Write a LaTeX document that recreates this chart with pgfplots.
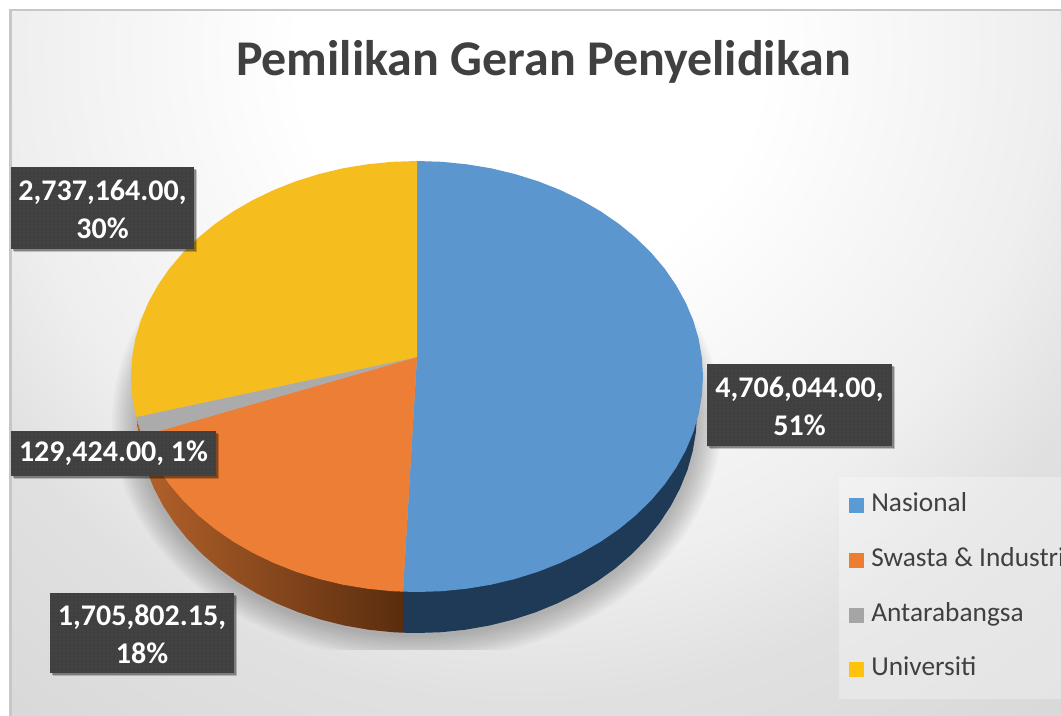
\documentclass[border=0pt]{standalone}
\usepackage{fontspec}
\setmainfont{Carlito}
\usepackage{pgfplots}
\pgfplotsset{compat=1.18}
\usetikzlibrary{patterns,shadows}

\definecolor{txt}{HTML}{404040}
\definecolor{pblue}{HTML}{5B96CE}
\definecolor{porange}{HTML}{EC7E35}
\definecolor{pgrey}{HTML}{ABABAB}
\definecolor{pyellow}{HTML}{F6BD1E}
\definecolor{lblue}{HTML}{5B9BD5}
\definecolor{lorange}{HTML}{ED7D31}
\definecolor{lgrey}{HTML}{A5A5A5}
\definecolor{lyellow}{HTML}{FFC20E}
\definecolor{wblue}{HTML}{1F3A57}
\definecolor{wol}{HTML}{B4622B}
\definecolor{wor}{HTML}{5A2D0E}
\definecolor{boxc}{HTML}{404040}
\definecolor{dotc}{HTML}{505050}
\definecolor{bgc}{HTML}{D9D9D9}

\newcommand{\lift}{\rule{0pt}{17pt}}

\tikzset{
  datalabel/.style 2 args={
    fill=boxc, text=white, font=\fontsize{22.5}{28.5}\selectfont\bfseries,
    align=center, inner sep=0pt, minimum width=#1*0.75pt, minimum height=#2*0.75pt,
    drop shadow={shadow xshift=2.4pt,shadow yshift=-2.4pt,opacity=.2,fill=black},
    drop shadow={shadow xshift=1.2pt,shadow yshift=-1.2pt,opacity=.3,fill=black},
    postaction={pattern=dots,pattern color=dotc}},
}

\begin{document}
\begin{tikzpicture}
\clip (0,0) rectangle (795.75pt,536.25pt);
% chart area: page is 0.75pt per reference pixel
\begin{scope}
  \clip (8.25pt,-1pt) rectangle (800pt,528.75pt);
  \fill[bgc] (0,-2pt) rectangle (800pt,540pt);
  \foreach \f in {38,37,...,0}{
    \pgfmathsetmacro{\rad}{\f<=16 ? 240+17.5*\f : (\f<=30 ? 520+9.3*(\f-16) : 650+25*(\f-30))}
    \pgfmathsetmacro{\lev}{(255-\f)/255}
    \definecolor{bgtmp}{gray}{\lev}
    \fill[bgtmp] (397.5pt,498pt) circle ({\rad*0.75pt});
  }
\end{scope}
\draw[color=black!22,line width=1.7pt] (7.9pt,-2pt) -- (7.9pt,528.9pt) -- (800pt,528.9pt);
% soft shadow under the pie
\begin{scope}
  \clip (0,49.5pt) rectangle (795.75pt,536.25pt);
  \foreach \k in {0,1,...,12}{
    \fill[black,opacity=0.02] (312.75pt,221.25pt) ellipse ({(305-2*\k)*0.75pt} and {(241-2*\k)*0.75pt});
  }
\end{scope}

\begin{axis}[
    at={(0,0)}, anchor=south west,
    scale only axis, width=795.75pt, height=536.25pt,
    xmin=0, xmax=1061, ymin=0, ymax=715, y dir=reverse,
    axis lines=none, clip=false,
    legend cell align=left,
    legend style={
      at={(axis cs:839,477)}, anchor=north west,
      fill=white, fill opacity=0.3, text opacity=1, draw=none,
      font=\fontsize{20.5}{24}\selectfont, text=txt,
      inner xsep=7.5pt, inner ysep=12pt,
      row sep=22pt,
      nodes={text depth=5pt, text height=14pt, inner sep=0pt},
    },
    legend image code/.code={
      \path[draw=none] (0pt,0pt) -- (16.5pt,0pt);
      \fill[#1,fill opacity=1,draw=none] (0pt,-5.6pt) rectangle (11.25pt,5.6pt);},
]
% side wall, blue part
\addplot[forget plot, fill=wblue, draw=none] coordinates {
(403,591.6)(403,632.7)(417,633)(441.4,632.2)(465.6,629.7)(489.5,625.5)(512.8,619.7)
(535.3,612.4)(557,603.5)(577.6,593.2)(597,581.5)(615,568.6)(631.5,554.4)(646.4,539.2)
(659.5,523)(670.8,506)(680.1,488.2)(687.5,469.9)(692.7,451.2)(695.9,432.2)(697,413)} -- cycle;
% side wall, orange part
\addplot[forget plot, left color=wol, right color=wor, draw=none] coordinates {
(403,591.6)(403,632.7)(392.6,632.2)(368.4,629.7)(344.5,625.5)(321.2,619.7)(298.7,612.4)
(277,603.5)(256.4,593.2)(237,581.5)(219,568.6)(202.5,554.4)(187.6,539.2)(174.5,523)
(163.2,506)(153.9,488.2)(146.5,469.9)(141.3,451.2)(138.1,432.2)(137,416)} -- cycle;

% Nasional
\addplot[forget plot, fill=pblue, draw=none] coordinates {
(417,357)(417,161)(441.9,161.8)(466.7,164.3)(491,168.3)(514.8,174)(537.9,181.2)(560,189.9)
(581,200)(600.8,211.4)(619.2,224.1)(636.1,238)(651.3,252.9)(664.7,268.7)(676.2,285.4)
(685.8,302.8)(693.3,320.7)(698.7,339.1)(701.9,357.7)(703,376.5)(701.9,395.3)(698.7,413.9)
(693.3,432.3)(685.8,450.2)(676.2,467.6)(664.7,484.3)(651.3,500.1)(636.1,515)(619.2,528.9)
(600.8,541.6)(581,553)(560,563.1)(537.9,571.8)(514.8,579)(491,584.7)(466.7,588.7)
(441.9,591.2)(417,592)(403,591.6)} -- cycle;
% Swasta & Industri
\addplot[forget plot, fill=porange, draw=none] coordinates {
(417,357)(403,591.6)(392.1,591.2)(367.3,588.7)(343,584.7)(319.2,579)(296.1,571.8)(274,563.1)
(253,553)(233.2,541.6)(214.8,528.9)(197.9,515)(182.7,500.1)(169.3,484.3)(157.8,467.6)
(148.2,450.2)(142,435.9)} -- cycle;
% Antarabangsa
\addplot[forget plot, fill=pgrey, draw=none] coordinates {
(417,357)(142,435.9)(140.7,432.3)(136.2,417)} -- cycle;
% Universiti
\addplot[forget plot, fill=pyellow, draw=none] coordinates {
(417,357)(136.2,417)(135.3,413.9)(132.1,395.3)(131,376.5)(132.1,357.7)(135.3,339.1)
(140.7,320.7)(148.2,302.8)(157.8,285.4)(169.3,268.7)(182.7,252.9)(197.9,238)(214.8,224.1)
(233.2,211.4)(253,200)(274,189.9)(296.1,181.2)(319.2,174)(343,168.3)(367.3,164.3)
(392.1,161.8)(417,161)} -- cycle;

\addlegendimage{fill=lblue}
\addlegendentry{Nasional}
\addlegendimage{fill=lorange}
\addlegendentry{Swasta \& Industri}
\addlegendimage{fill=lgrey}
\addlegendentry{Antarabangsa}
\addlegendimage{fill=lyellow}
\addlegendentry{Universiti}

\node[anchor=base, text=txt, font=\fontsize{37.5}{45}\selectfont\bfseries]
  at (axis cs:543.5,75) {Pemilikan Geran Penyelidikan};

\node[datalabel={183}{82}] at (axis cs:102.5,208) {\lift 2,737,164.00,\\30\%};
\node[datalabel={205}{45}] at (axis cs:113.5,453.5) {129,424.00, 1\%};
\node[datalabel={184}{80}] at (axis cs:142,633) {\lift 1,705,802.15,\\18\%};
\node[datalabel={185}{82}] at (axis cs:799.5,405) {\lift 4,706,044.00,\\51\%};
\end{axis}
\end{tikzpicture}
\end{document}
